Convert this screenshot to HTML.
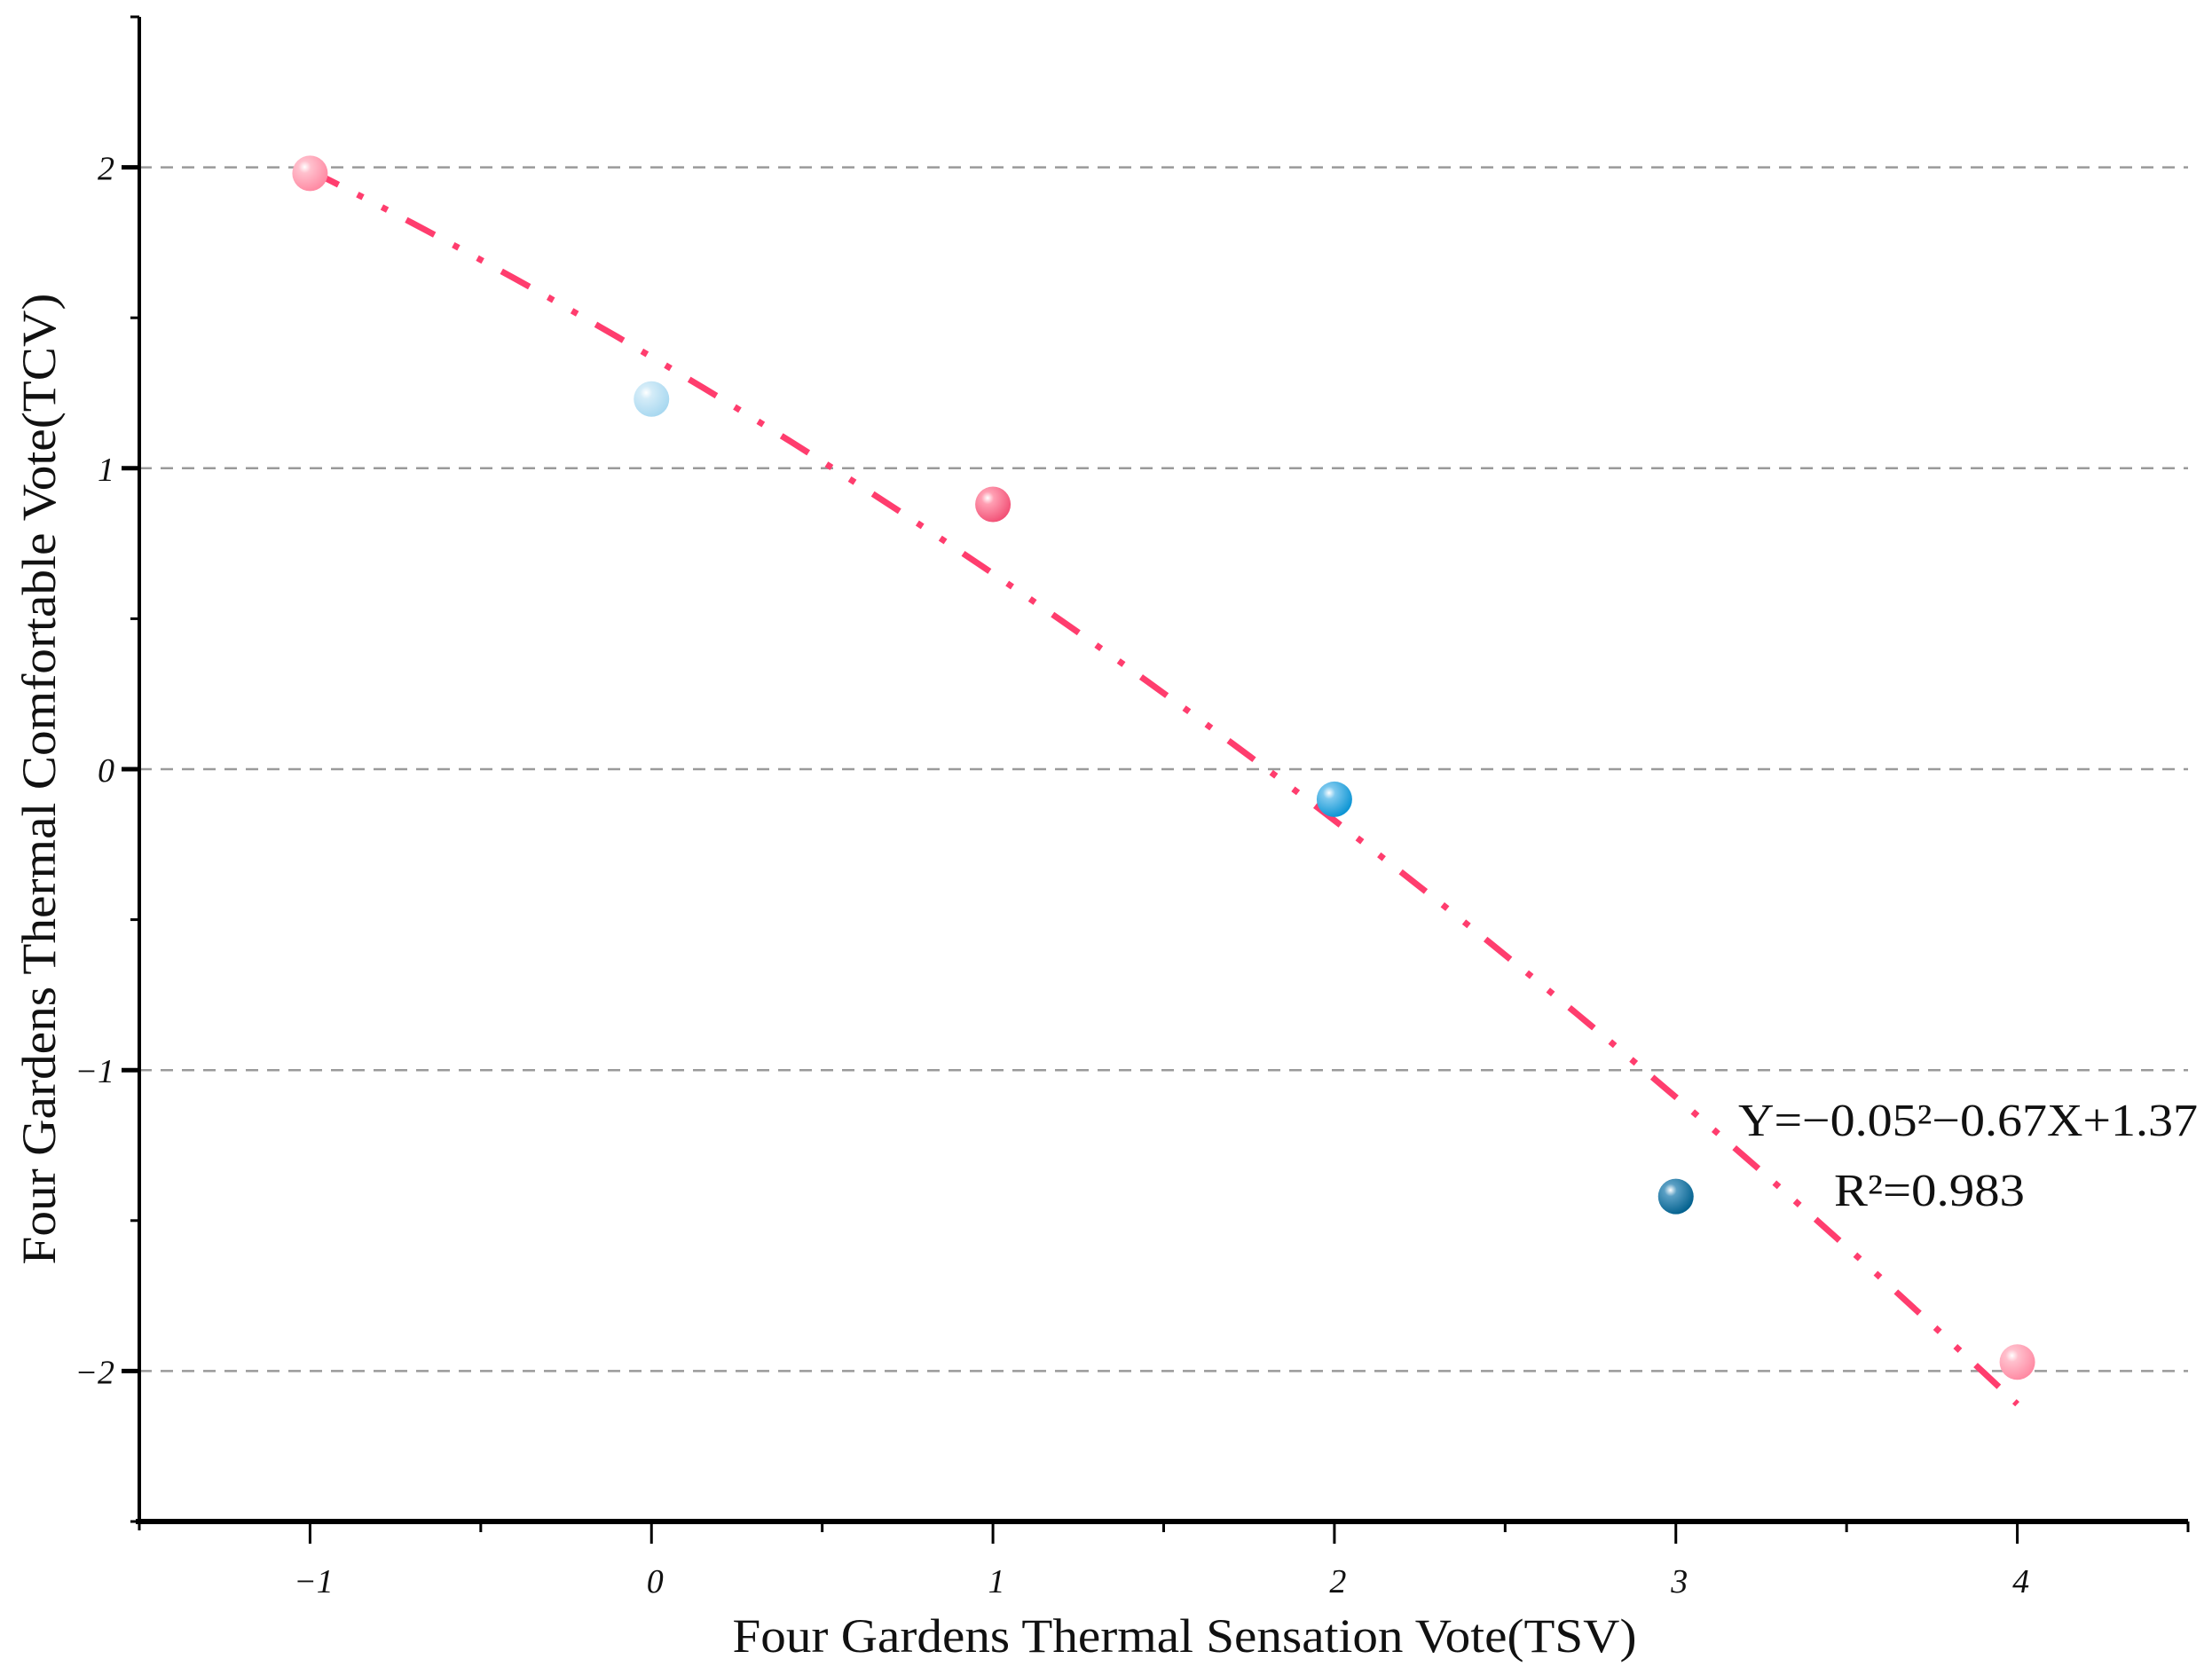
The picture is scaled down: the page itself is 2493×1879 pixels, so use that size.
<!DOCTYPE html>
<html><head><meta charset="utf-8">
<style>
html,body{margin:0;padding:0;background:#fff;}
svg{display:block;}
text{font-family:"Liberation Serif",serif;fill:#111;}
</style></head>
<body>
<svg id="chart" width="2493" height="1879" viewBox="0 0 2493 1879" xmlns="http://www.w3.org/2000/svg">
<defs>
<radialGradient id="gPinkLight" cx="35%" cy="32%" r="70%"><stop offset="0" stop-color="#fff"/><stop offset="0.25" stop-color="#ffc0cd"/><stop offset="1" stop-color="#ff8aa3"/></radialGradient>
<radialGradient id="gBlueLight" cx="35%" cy="32%" r="70%"><stop offset="0" stop-color="#fff"/><stop offset="0.25" stop-color="#d4ecf8"/><stop offset="1" stop-color="#a8d8f0"/></radialGradient>
<radialGradient id="gPink" cx="35%" cy="32%" r="70%"><stop offset="0" stop-color="#fff"/><stop offset="0.25" stop-color="#ff9fb3"/><stop offset="1" stop-color="#f25277"/></radialGradient>
<radialGradient id="gBlue" cx="35%" cy="32%" r="70%"><stop offset="0" stop-color="#fff"/><stop offset="0.25" stop-color="#7cc8ee"/><stop offset="1" stop-color="#0d95d4"/></radialGradient>
<radialGradient id="gBlueDark" cx="35%" cy="32%" r="70%"><stop offset="0" stop-color="#fff"/><stop offset="0.25" stop-color="#5a9fc4"/><stop offset="1" stop-color="#04628f"/></radialGradient>
</defs>
<g id="grid"></g>
<g id="axes"></g>
<g id="fit"></g>
<g id="points"></g>
<text x="1335" y="1862" font-size="54" text-anchor="middle" textLength="1019" lengthAdjust="spacingAndGlyphs">Four Gardens Thermal Sensation Vote(TSV)</text>
<text transform="translate(62,878) rotate(-90)" font-size="54" text-anchor="middle" textLength="1095" lengthAdjust="spacingAndGlyphs">Four Gardens Thermal Comfortable Vote(TCV)</text>
<text x="1959" y="1280" font-size="52" textLength="518" lengthAdjust="spacingAndGlyphs">Y=−0.05²−0.67X+1.37</text>
<text x="2067" y="1359" font-size="52" textLength="215" lengthAdjust="spacingAndGlyphs">R²=0.983</text>
</svg>
<script>
const tsvValues = [-1, 0, 1, 2, 3, 4];
const tcvValues = [1.98, 1.23, 0.88, -0.10, -1.42, -1.97];
const pointFills = ["gPinkLight", "gBlueLight", "gPink", "gBlue", "gBlueDark", "gPinkLight"];
const xTicks = [-1, 0, 1, 2, 3, 4];
const xTickLabels = ["−1", "0", "1", "2", "3", "4"];
const yTicks = [2, 1, 0, -1, -2];
const yTickLabels = ["2", "1", "0", "−1", "−2"];
const fitCoefs = [-0.05, -0.67, 1.37];
const fitRange = [-1, 4];

const NS = "http://www.w3.org/2000/svg";
const X0 = 157, X1 = 2466, Y0 = 1715, Y1 = 19;
const xMin = -1.5, xMax = 4.5, yMin = -2.5, yMax = 2.5;
function sx(v){ return X0 + (v - xMin) / (xMax - xMin) * (X1 - X0); }
function sy(v){ return Y0 - (v - yMin) / (yMax - yMin) * (Y0 - Y1); }
function mk(tag, attrs, parent){ const e = document.createElementNS(NS, tag); for (const k in attrs) e.setAttribute(k, attrs[k]); parent.appendChild(e); return e; }

const grid = document.getElementById('grid');
yTicks.forEach((v, i) => {
  const l = mk('line', {x1: X0, x2: X1, y1: sy(v), y2: sy(v), stroke: '#9a9a9a', 'stroke-width': 2.5, 'stroke-dasharray': '14 10'}, grid);
  
  
});

const axes = document.getElementById('axes');
const ya = mk('line', {x1: X0, x2: X0, y1: Y1, y2: Y0 + 2, stroke: '#000', 'stroke-width': 4}, axes);


const xa = mk('line', {x1: X0 - 4, x2: X1, y1: Y0, y2: Y0, stroke: '#000', 'stroke-width': 6}, axes);


mk('line', {x1: X0, x2: X0, y1: Y0, y2: Y0 + 10, stroke: '#000', 'stroke-width': 3}, axes);
mk('line', {x1: X1, x2: X1, y1: Y0, y2: Y0 + 10, stroke: '#000', 'stroke-width': 3}, axes);
mk('line', {x1: X0 - 10, x2: X0, y1: Y1, y2: Y1, stroke: '#000', 'stroke-width': 3}, axes);
for (let v = yMin; v <= yMax; v += 0.5) {
  const major = Number.isInteger(v);
  mk('line', {x1: X0 - (major ? 20 : 10), x2: X0, y1: sy(v), y2: sy(v), stroke: '#000', 'stroke-width': major ? 5 : 3}, axes);
}
for (let v = -1; v <= xMax; v += 0.5) {
  const major = Number.isInteger(v);
  mk('line', {x1: sx(v), x2: sx(v), y1: Y0, y2: Y0 + (major ? 25 : 12), stroke: '#000', 'stroke-width': 3}, axes);
}
xTicks.forEach((v, i) => {
  const t = mk('text', {x: sx(v) + 4, y: Y0 + 80, 'font-size': 38, 'font-style': 'italic', 'text-anchor': 'middle'}, axes);
  t.textContent = xTickLabels[i];
  
  
});
yTicks.forEach((v, i) => {
  const t = mk('text', {x: X0 - 28, y: sy(v) + 14, 'font-size': 38, 'font-style': 'italic', 'text-anchor': 'end'}, axes);
  t.textContent = yTickLabels[i];
  
  
});

const fit = document.getElementById('fit');
let d = '';
for (let k = 0; k <= 100; k++) {
  const x = fitRange[0] + (fitRange[1] - fitRange[0]) * k / 100;
  const y = fitCoefs[0] * x * x + fitCoefs[1] * x + fitCoefs[2];
  d += (k ? 'L' : 'M') + sx(x).toFixed(1) + ' ' + sy(y).toFixed(1);
}
const fp = mk('path', {d: d, fill: 'none', stroke: '#ff3d6e', 'stroke-width': 7, 'stroke-dasharray': '36 24 7 24 7 24'}, fit);



const pts = document.getElementById('points');
tsvValues.forEach((x, i) => {
  const c = mk('circle', {cx: sx(x), cy: sy(tcvValues[i]), r: 20, fill: 'url(#' + pointFills[i] + ')'}, pts);
  
  
});
</script>
</body></html>
